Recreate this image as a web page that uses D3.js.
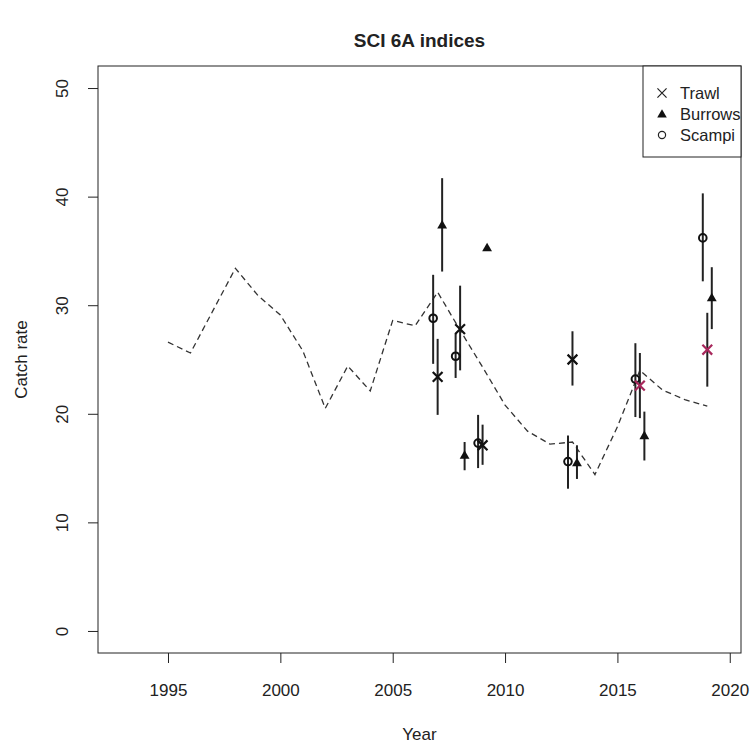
<!DOCTYPE html>
<html>
<head>
<meta charset="utf-8">
<script src="https://cdn.jsdelivr.net/npm/d3@7"></script>
<style>
  body { margin: 0; background: #fff; }
  svg text { font-family: "Liberation Sans", Arial, sans-serif; fill: #222; }
</style>
</head>
<body>
<script>
// Model fit (dashed line)
const fitYears  = d3.range(1995, 2020)
const fitValues = [26.6, 25.6, 29.5, 33.4, 30.9, 29.1, 25.8, 20.5, 24.4, 22.1,
                   28.6, 28.1, 31.2, 27.7, 24.3, 20.8, 18.4, 17.2, 17.4, 14.4,
                   18.8, 24.0, 22.2, 21.3, 20.7]

// Survey years shared by the three indices
const surveyYears = [2007, 2008, 2009, 2013, 2016, 2019]

// Trawl index with interval
const trawlValues = [23.4, 27.8, 17.1, 25.0, 22.6, 25.9]
const trawlLow    = [19.9, 24.0, 15.3, 22.6, 19.6, 22.5]
const trawlHigh   = [26.9, 31.8, 19.0, 27.6, 25.6, 29.3]
// Trawl years from the new survey
const trawlNew    = [false, false, false, false, true, true]

// Burrow index with interval
const burrowValues = [37.4, 16.2, 35.3, 15.5, 18.0, 30.7]
const burrowLow    = [33.1, 14.8, 35.3, 14.0, 15.7, 27.8]
const burrowHigh   = [41.7, 17.4, 35.3, 17.1, 20.2, 33.5]

// Scampi index with interval
const scampiValues = [28.8, 25.3, 17.3, 15.6, 23.2, 36.2]
const scampiLow    = [24.6, 23.3, 15.0, 13.1, 19.7, 32.2]
const scampiHigh   = [32.8, 27.4, 19.9, 18.0, 26.5, 40.3]

const xTicks = [1995, 2000, 2005, 2010, 2015, 2020]
const yTicks = [0, 10, 20, 30, 40, 50]
const legendLabels = ['Trawl', 'Burrows', 'Scampi']

// Layout (plot region in pixels)
var width  = 754
var height = 745
var pLeft = 98, pRight = 741, pTop = 66, pBottom = 653
var fontSize = '17px'

var x = d3.scaleLinear().domain([1991.885, 2020.5]).range([pLeft, pRight])
var y = d3.scaleLinear().domain([-2.03, 52.03]).range([pBottom, pTop])

let svg = d3.select('body')
            .append('svg')
            .attr('width', width)
            .attr('height', height)

// Title
svg.append('text')
   .attr('x', (pLeft + pRight) / 2)
   .attr('y', 47)
   .attr('text-anchor', 'middle')
   .style('font-size', '19px')
   .style('font-weight', 'bold')
   .text('SCI 6A indices')

// X axis
let xAxis = svg.append('g')
               .attr('transform', 'translate(0,' + pBottom + ')')
               .call(d3.axisBottom(x).tickValues(xTicks).tickFormat(d3.format('d'))
                       .tickSize(10).tickSizeOuter(0))
xAxis.select('.domain').remove()
xAxis.selectAll('line').attr('stroke', '#222')
xAxis.selectAll('text')
     .attr('y', 37)
     .attr('dy', '0.35em')
     .style('font-size', fontSize)
     .style('font-family', '"Liberation Sans", Arial, sans-serif')

// Y axis, labels rotated as in base R
let yAxis = svg.append('g')
               .attr('transform', 'translate(' + pLeft + ',0)')
               .call(d3.axisLeft(y).tickValues(yTicks).tickSize(10).tickSizeOuter(0))
yAxis.select('.domain').remove()
yAxis.selectAll('line').attr('stroke', '#222')
yAxis.selectAll('text')
     .attr('transform', 'rotate(-90)')
     .attr('x', 0)
     .attr('y', -30)
     .attr('dy', 0)
     .attr('text-anchor', 'middle')
     .style('font-size', fontSize)
     .style('font-family', '"Liberation Sans", Arial, sans-serif')

// Axis titles
svg.append('text')
   .attr('x', (pLeft + pRight) / 2)
   .attr('y', 740)
   .attr('text-anchor', 'middle')
   .style('font-size', fontSize)
   .text('Year')
svg.append('text')
   .attr('transform', 'translate(27,' + (pTop + pBottom) / 2 + ') rotate(-90)')
   .attr('text-anchor', 'middle')
   .style('font-size', fontSize)
   .text('Catch rate')

// Plot box
svg.append('rect')
   .attr('x', pLeft).attr('y', pTop)
   .attr('width', pRight - pLeft).attr('height', pBottom - pTop)
   .attr('fill', 'none')
   .attr('stroke', '#222')
   .attr('stroke-width', 1)

// Dashed fit line
let line = d3.line()
             .x((d, i) => x(fitYears[i]))
             .y(d => y(d))
svg.append('path')
   .datum(fitValues)
   .attr('d', line)
   .attr('fill', 'none')
   .attr('stroke', '#333')
   .attr('stroke-width', 1.3)
   .attr('stroke-dasharray', '6,4')

// Build rows for each index, nudged sideways so they don't overlap
var makeRows = function(vals, lo, hi, shift){
    return vals.map((v, i) => ({ yr: surveyYears[i] + shift, v: v, lo: lo[i], hi: hi[i], i: i }))
}
let trawl  = makeRows(trawlValues, trawlLow, trawlHigh, 0)
let burrow = makeRows(burrowValues, burrowLow, burrowHigh, 0.2)
let scampi = makeRows(scampiValues, scampiLow, scampiHigh, -0.2)

// Error bars
var bars = function(rows){
    svg.append('g')
       .selectAll('line')
       .data(rows)
       .enter()
       .append('line')
       .attr('x1', d => x(d.yr)).attr('x2', d => x(d.yr))
       .attr('y1', d => y(d.lo)).attr('y2', d => y(d.hi))
       .attr('stroke', '#222')
       .attr('stroke-width', 2)
}
bars(scampi)
bars(trawl)
bars(burrow)

// Scampi circles
svg.append('g')
   .selectAll('circle')
   .data(scampi)
   .enter()
   .append('circle')
   .attr('cx', d => x(d.yr))
   .attr('cy', d => y(d.v))
   .attr('r', 3.8)
   .attr('fill', 'none')
   .attr('stroke', '#111')
   .attr('stroke-width', 2)

// Burrow triangles
var tri = d3.symbol().type(d3.symbolTriangle).size(42)
svg.append('g')
   .selectAll('path')
   .data(burrow)
   .enter()
   .append('path')
   .attr('d', tri)
   .attr('transform', d => 'translate(' + x(d.yr) + ',' + (y(d.v) + 0.8) + ')')
   .attr('fill', '#111')

// Trawl crosses
var cross = d3.symbol().type(d3.symbolX).size(64)
svg.append('g')
   .selectAll('path')
   .data(trawl)
   .enter()
   .append('path')
   .attr('d', cross)
   .attr('transform', d => 'translate(' + x(d.yr) + ',' + y(d.v) + ')')
   .attr('fill', 'none')
   .attr('stroke', d => trawlNew[d.i] ? '#a8285c' : '#111')
   .attr('stroke-width', 2.2)

// Legend, top right
let lg = svg.append('g')
lg.append('rect')
  .attr('x', 643).attr('y', pTop)
  .attr('width', pRight - 643).attr('height', 91)
  .attr('fill', '#fff')
  .attr('stroke', '#222')
let ly = d3.scalePoint().domain(legendLabels).range([93, 135])
lg.append('path')
  .attr('d', d3.symbol().type(d3.symbolX).size(56))
  .attr('transform', 'translate(662,' + ly('Trawl') + ')')
  .attr('fill', 'none').attr('stroke', '#222').attr('stroke-width', 1.2)
lg.append('path')
  .attr('d', d3.symbol().type(d3.symbolTriangle).size(40))
  .attr('transform', 'translate(662,' + (ly('Burrows') + 0.8) + ')')
  .attr('fill', '#111')
lg.append('circle')
  .attr('cx', 662).attr('cy', ly('Scampi'))
  .attr('r', 3.6)
  .attr('fill', 'none').attr('stroke', '#222').attr('stroke-width', 1.2)
lg.selectAll('text.lab')
  .data(legendLabels)
  .enter()
  .append('text')
  .attr('class', 'lab')
  .attr('x', 680)
  .attr('y', d => ly(d))
  .attr('dy', '0.36em')
  .style('font-size', '16.5px')
  .text(d => d)
</script>
</body>
</html>
